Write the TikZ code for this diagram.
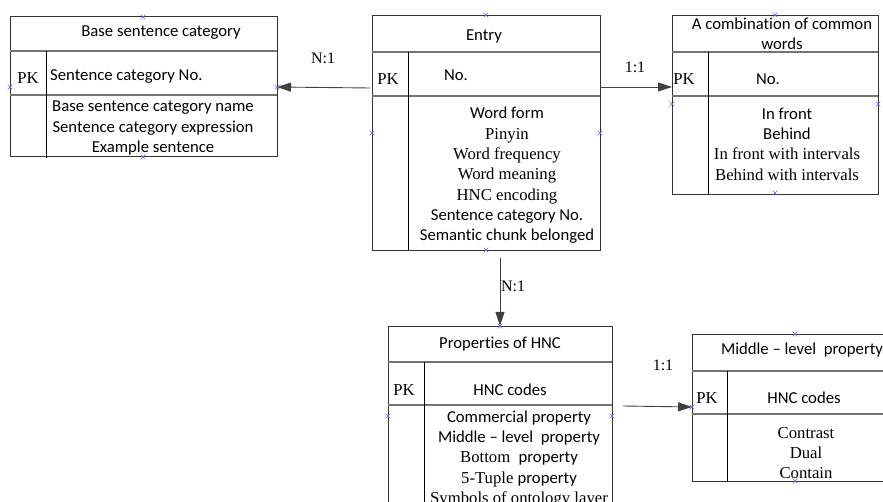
\documentclass[tikz,border=0pt]{standalone}
\usepackage{fontspec}
\setmainfont{Liberation Serif}
\newfontfamily\calib[Ligatures={NoCommon,TeX}]{Carlito}
\usetikzlibrary{arrows.meta,shapes.misc}

\begin{document}
\begin{tikzpicture}[x=1pt,y=-1pt,
    font=\fontsize{16.7}{20.3}\selectfont,
    frame/.style={draw=black!80, line width=0.9pt},
    rowline/.style={draw=black!55, line width=1.3pt},
    colline/.style={draw=black, line width=0.8pt},
    cpt/.style={cross out, draw=blue!60, minimum size=4pt, inner sep=0pt, line width=0.6pt},
    rel/.style={draw=black!75, line width=0.9pt, -{Triangle[length=14pt,width=9pt]}},
    card/.style={font=\fontsize{16}{19}\selectfont}]
            \clip (0,0) rectangle (883,502);

            % Base sentence category
            \draw[frame] (10,16) rectangle (277,156);
            \draw[rowline] (10,51) -- (277,51);
            \draw[rowline] (10,95) -- (277,95);
            \draw[colline] (46,51) -- (46,158);
            \node (base-title) at (161,33) {\calib Base sentence category};
            \node (base-pk) at (28,78) {PK};
            \node[anchor=west, inner sep=0pt] (base-key) at (50,77) {\calib Sentence category No.};
            \node[align=center] (base-body) at (153,128) {\calib Base sentence category name\\
                \calib Sentence category expression\\ \calib Example sentence};

            % Entry
            \draw[frame] (372,15) rectangle (600,250);
            \draw[rowline] (372,52) -- (600,52);
            \draw[rowline] (372,96) -- (600,96);
            \draw[colline] (408,52) -- (408,250);
            \node (entry-title) at (484,36) {\calib Entry};
            \node (entry-pk) at (388,79) {PK};
            \node (entry-key) at (456,75) {\calib No.};
            \node[align=center] (entry-body) at (507,175.5) {\calib Word form\\ Pinyin\\
                Word frequency\\ Word meaning\\ HNC encoding\\
                \calib Sentence category No.\\ \calib Semantic chunk belonged};

            % A combination of common words
            \draw[frame] (672,15) rectangle (878,194);
            \draw[rowline] (672,52) -- (878,52);
            \draw[rowline] (672,96) -- (878,96);
            \draw[colline] (708,52) -- (708,194);
            \node[align=center] (comb-title) at (782,34) {\calib A combination of common\\ \calib words};
            \node (comb-pk) at (684,79) {PK};
            \node (comb-key) at (768,79) {\calib No.};
            \node[align=center] (comb-body) at (787,144) {\calib In front\\ \calib Behind\\
                In front with intervals\\ Behind with intervals};

            % Properties of HNC
            \draw[frame] (388,326) rectangle (612,530);
            \draw[rowline] (388,362) -- (612,362);
            \draw[rowline] (388,405) -- (612,405);
            \draw[colline] (424,362) -- (424,530);
            \node (hnc-title) at (500,344) {\calib Properties of HNC};
            \node (hnc-pk) at (404,390) {PK};
            \node (hnc-key) at (510,390) {\calib HNC codes};
            \node[align=center] (hnc-body) at (519,459) {\calib Commercial property\\
                \calib Middle – level\ \ property\\ Bottom\ \ {\calib property}\\
                5-Tuple {\calib property}\\ Symbols of ontology layer};

            % Middle - level property
            \draw[frame] (692,334) rectangle (912,481);
            \draw[rowline] (692,371) -- (912,371);
            \draw[rowline] (692,414) -- (912,414);
            \draw[colline] (727,371) -- (727,481);
            \node (mid-title) at (802,350) {\calib Middle – level\ \ property};
            \node (mid-pk) at (707,398) {PK};
            \node (mid-key) at (804,398) {\calib HNC codes};
            \node[align=center] (mid-body) at (806,453) {Contrast\\ Dual\\ Contain};

            % connection points
            \node[cpt] (base-t) at (143,17) {};
            \node[cpt] (base-l) at (10,87) {};
            \node[cpt] (base-r) at (277,87) {};
            \node[cpt] (base-b) at (143,157) {};
            \node[cpt] (entry-t) at (486,15) {};
            \node[cpt] (entry-l) at (372,133) {};
            \node[cpt] (entry-r) at (600,133) {};
            \node[cpt] (entry-b) at (486,250) {};
            \node[cpt] (comb-t) at (775,15) {};
            \node[cpt] (comb-l) at (672,104) {};
            \node[cpt] (comb-r) at (878,104) {};
            \node[cpt] (comb-b) at (775,193) {};
            \node[cpt] (hnc-t) at (500,326) {};
            \node[cpt] (hnc-l) at (388,416) {};
            \node[cpt] (hnc-r) at (612,416) {};
            \node[cpt] (mid-t) at (795,334) {};
            \node[cpt] (mid-l) at (692,407) {};
            \node[cpt] (mid-b) at (795,481) {};

            % relations
            \coordinate (entry-w) at (370,88);
            \coordinate (entry-e) at (600,87);
            \coordinate (comb-w) at (672,87);
            \coordinate (entry-s) at (500,258);
            \coordinate (hnc-e) at (623,406);
            \draw[rel] (entry-w) -- (base-r.center);
            \draw[rel] (entry-e) -- (comb-w);
            \draw[rel] (entry-s) -- (hnc-t.center);
            \draw[rel] (hnc-e) -- (mid-l.center);
            \node[card] (n1a) at (323,58) {N:1};
            \node[card] (r1a) at (635,67) {1:1};
            \node[card] (n1b) at (513,286) {N:1};
            \node[card] (r1b) at (663,365) {1:1};
        \end{tikzpicture}
\end{document}
